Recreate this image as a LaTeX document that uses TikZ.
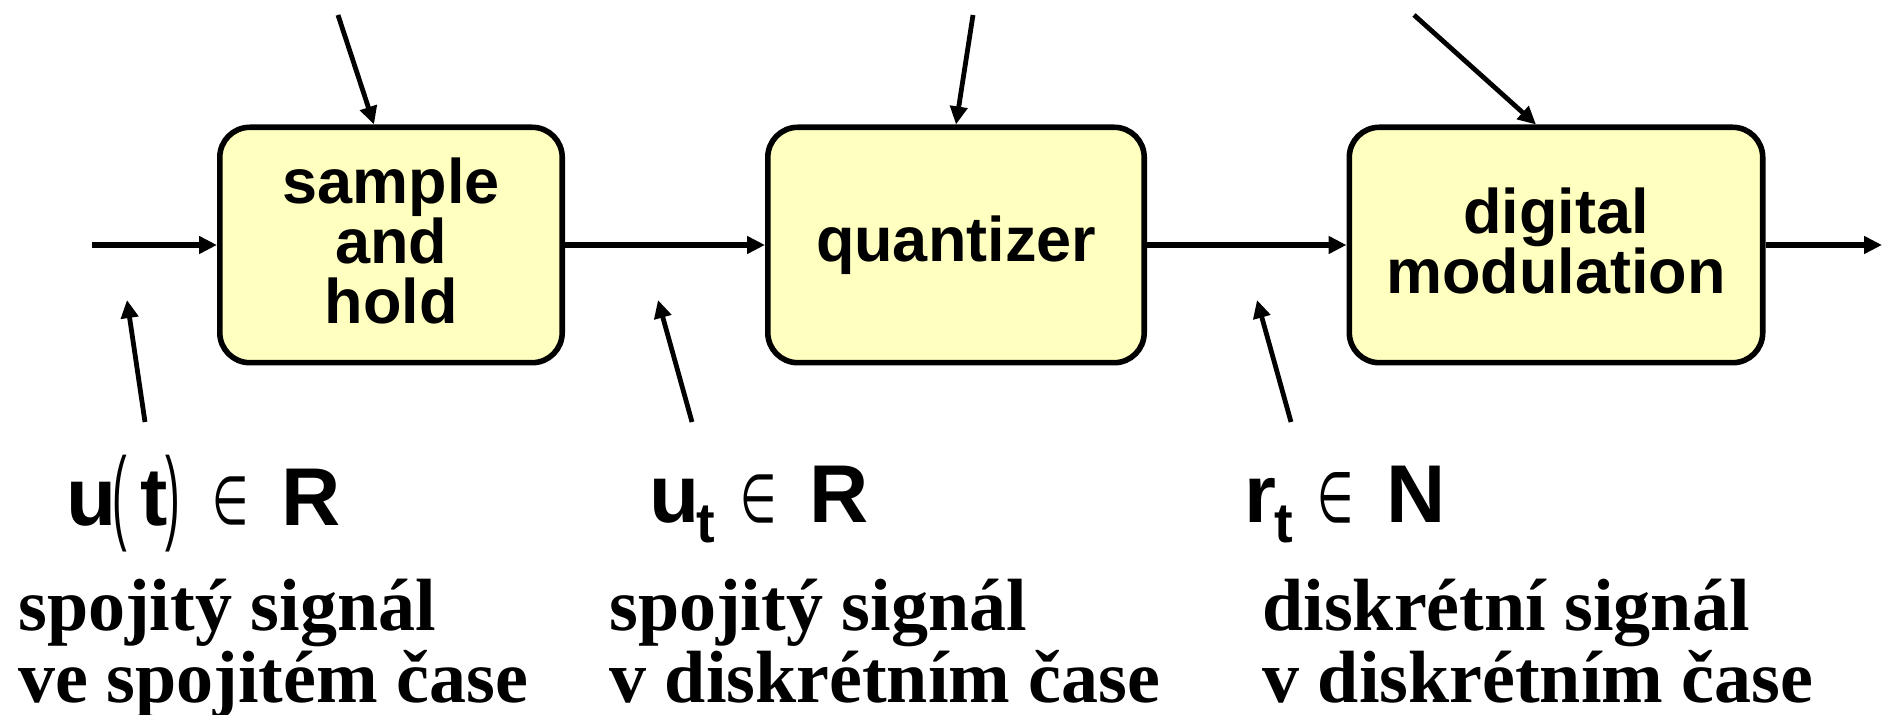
\documentclass[tikz,border=0pt]{standalone}
\usepackage{fontspec}
\setmainfont{Liberation Serif}
\setsansfont{Liberation Sans}
\newfontfamily\symfont{DejaVu Sans}
\usetikzlibrary{arrows.meta}
\definecolor{boxyellow}{RGB}{255,255,192}

\begin{document}
\begin{tikzpicture}[x=0.5pt,y=-0.5pt,
  block/.style={draw, line width=2.8pt, rounded corners=15pt, fill=boxyellow,
    inner sep=0pt, minimum height=117.7pt},
  blocktext/.style={inner sep=0pt, align=center,
    font=\sffamily\bfseries\fontsize{31.5}{30}\selectfont},
  flow/.style={line width=2.8pt, -{Triangle[length=9pt,width=8.5pt]}},
  pointer/.style={line width=2.4pt, -{Triangle[length=9pt,width=8.5pt]}},
  mathlbl/.style={inner sep=0pt, anchor=base west,
    font=\sffamily\bfseries\fontsize{41}{41}\selectfont},
  sublbl/.style={inner sep=0pt, anchor=base west,
    font=\sffamily\bfseries\fontsize{28}{28}\selectfont},
  paren/.style={inner sep=0pt, anchor=north west,
    font=\sffamily\fontsize{40}{40}\selectfont},
  elem/.style={inner sep=0pt, anchor=south west,
    font=\symfont\fontsize{32}{32}\selectfont},
  caption/.style={inner sep=0pt, anchor=base west,
    font=\rmfamily\bfseries\fontsize{37}{37}\selectfont}
]
\useasboundingbox[fill=white] (0,0) rectangle (1882,715);

% processing blocks and their titles
\node[block, minimum width=171.2pt] (b1) at (391,245) {};
\node[block, minimum width=188.2pt] (b2) at (956,245) {};
\node[block, minimum width=206.7pt] (b3) at (1556,245) {};
\node[blocktext, yshift=2pt] (b1txt) at (b1.center) {sample\\and\\hold};
\node[blocktext] (b2txt) at (b2.center) {quantizer};
\node[blocktext, yshift=2pt] (b3txt) at (b3.center) {digital\\modulation};

% signal path
\coordinate (in) at (92,245);
\coordinate (out) at (1882,245);
\draw[flow] (in) -- (b1.west);
\draw[flow] (b1.east) -- (b2.west);
\draw[flow] (b2.east) -- (b3.west);
\draw[flow] (b3.east) -- (out);

% pointers from above
\coordinate (t1) at (338,15);
\coordinate (t2) at (973,15);
\coordinate (t3) at (1414,15);
\draw[pointer] (t1) -- ([xshift=-8.5pt]b1.north);
\draw[pointer] (t2) -- (b2.north);
\draw[pointer] (t3) -- ([xshift=-10pt]b3.north);

% pointers from the signal labels
\coordinate (s1) at (145,422);  \coordinate (e1) at (127,300);
\coordinate (s2) at (692,422);  \coordinate (e2) at (658,300);
\coordinate (s3) at (1291,422); \coordinate (e3) at (1257,300);
\draw[pointer] (s1) -- (e1);
\draw[pointer] (s2) -- (e2);
\draw[pointer] (s3) -- (e3);

% u(t) in R
\node[mathlbl] (au) at (66,525) {u\hspace{-3pt}};
\node[paren] (ao) at (112,455) {\scalebox{0.55}[1.3]{(}};
\node[mathlbl] (at) at (140,525) {t\hspace{-1.5pt}};
\node[paren] (ac) at (165,455) {\scalebox{0.55}[1.3]{)}};
\node[elem] (ae) at (212,526) {\scalebox{0.65}[1.05]{∈}};
\node[mathlbl] (aR) at (281,525) {R};

% u_t in R
\node[mathlbl] (bu) at (649,522) {u};
\node[sublbl] (bt) at (696,542) {t};
\node[elem] (be) at (740,524) {\scalebox{0.65}[1.05]{∈}};
\node[mathlbl] (bR) at (809,522) {R};

% r_t in N
\node[mathlbl] (cr) at (1244,522) {r};
\node[sublbl] (ct) at (1274,542) {t};
\node[elem] (ce) at (1317,524) {\scalebox{0.65}[1.1]{∈}};
\node[mathlbl] (cN) at (1386,522) {N};

% descriptions
\node[caption] (d1a) at (18,630) {spojitý signál};
\node[caption] (d1b) at (18,702) {ve spojitém čase};
\node[caption] (d2a) at (609,630) {spojitý signál};
\node[caption] (d2b) at (609,702) {v diskrétním čase};
\node[caption] (d3a) at (1262,630) {diskrétní signál};
\node[caption] (d3b) at (1262,702) {v diskrétním čase};
\end{tikzpicture}
\end{document}
